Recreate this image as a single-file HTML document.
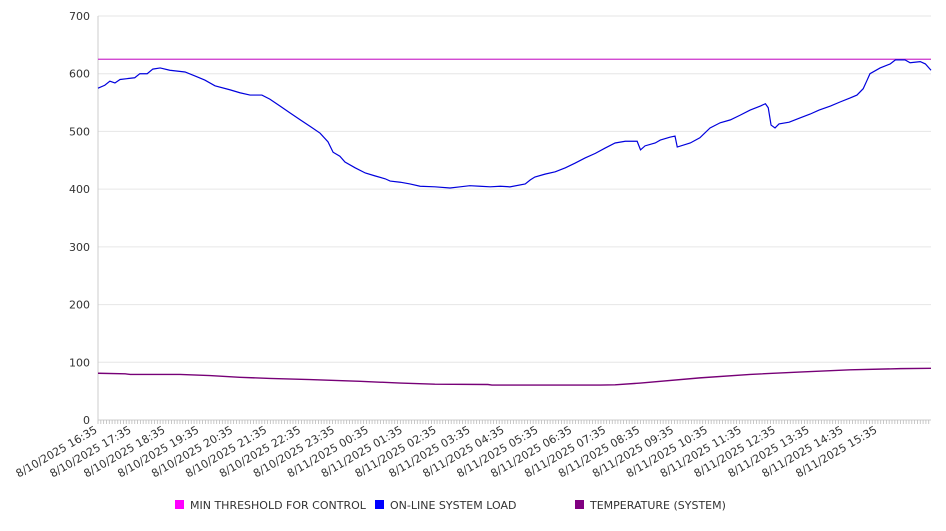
<!DOCTYPE html>
<html><head><meta charset="utf-8"><style>
body{margin:0;background:#fff;font-family:"Liberation Sans","DejaVu Sans",sans-serif;}
svg text{font-family:"DejaVu Sans","Liberation Sans",sans-serif;fill:#333;}
</style></head><body>
<svg id="chart" width="946" height="526" xmlns="http://www.w3.org/2000/svg">
<g id="grid"></g>
<g id="axes"></g>
<g id="series"></g>
<g id="legend"></g>
</svg>
<script>
const tickLabels = ["8/10/2025 16:35","8/10/2025 17:35","8/10/2025 18:35","8/10/2025 19:35","8/10/2025 20:35","8/10/2025 21:35","8/10/2025 22:35","8/10/2025 23:35","8/11/2025 00:35","8/11/2025 01:35","8/11/2025 02:35","8/11/2025 03:35","8/11/2025 04:35","8/11/2025 05:35","8/11/2025 06:35","8/11/2025 07:35","8/11/2025 08:35","8/11/2025 09:35","8/11/2025 10:35","8/11/2025 11:35","8/11/2025 12:35","8/11/2025 13:35","8/11/2025 14:35","8/11/2025 15:35"];
const yTicks = [0,100,200,300,400,500,600,700];
const threshold = 625;
const loadMinutes = [0,12,21,30,39,65,74,87,97,110,127,154,172,189,207,234,251,269,290,304,322,340,358,375,393,407,416,428,437,455,473,490,508,517,535,552,570,596,623,641,658,676,694,712,729,756,765,773,791,809,827,844,862,880,897,915,933,954,960,968,986,995,1012,1021,1025,1048,1065,1083,1101,1119,1136,1154,1172,1181,1186,1191,1198,1205,1223,1241,1260,1276,1296,1313,1331,1343,1354,1361,1366,1384,1402,1411,1428,1437,1455,1464,1474];
const loadValues = [575,580,587,584,590,593,600,600,608,610,606,603,596,589,579,572,567,563,563,556,544,532,520,509,497,482,464,457,447,437,428,423,418,414,412,409,405,404,402,404,406,405,404,405,404,409,416,421,426,430,437,445,454,462,471,480,483,483,468,475,480,485,490,492,473,480,489,506,515,520,528,537,544,548,541,511,506,513,516,523,530,537,544,551,558,563,574,589,600,610,617,624,624,619,621,617,606];
const tempMinutes = [0,48,57,145,198,251,304,375,464,535,596,690,697,889,915,960,1065,1154,1241,1331,1420,1474];
const tempValues = [81,80,79,79,77,74,72,70,67,64,62,61.5,60.5,60.5,61,64,73,79,83,87,89,89.5];
const NS="http://www.w3.org/2000/svg";
const X0=98,X1=931,Y0=420,Y1=16,MAXM=1474,MAXV=700;
const xs=m=>X0+(X1-X0)*m/MAXM;
const ys=v=>Y0-(Y0-Y1)*v/MAXV;
function mk(tag,attrs,parent){const e=document.createElementNS(NS,tag);for(const k in attrs)e.setAttribute(k,attrs[k]);parent.appendChild(e);return e;}
const grid=document.getElementById('grid'),axes=document.getElementById('axes'),series=document.getElementById('series'),legend=document.getElementById('legend');
yTicks.forEach(v=>{
  const l=mk('line',{x1:X0,x2:X1,y1:ys(v),y2:ys(v),stroke:'#e6e6e6','stroke-width':1},grid);
  
  
  const t=mk('text',{x:90,y:ys(v)+4,'text-anchor':'end','font-size':11},axes);
  t.textContent=v;
  
  
});
mk('line',{x1:X0,x2:X0,y1:Y1,y2:Y0,stroke:'#ccc'},axes);
mk('line',{x1:X0,x2:X1,y1:Y0,y2:Y0,stroke:'#ccc'},axes);
for(let m=0;m<=MAXM;m+=5){mk('line',{x1:xs(m),x2:xs(m),y1:Y0,y2:Y0+4,stroke:'#bbb','stroke-width':0.8},axes);}
tickLabels.forEach((s,i)=>{
  const x=xs(i*60),y=Y0+12;
  const t=mk('text',{x:x,y:y,'text-anchor':'end','font-size':11,transform:`rotate(-30 ${x} ${y})`},axes);
  t.textContent=s;
  
  
});
const th=mk('line',{x1:X0,x2:X1,y1:ys(threshold),y2:ys(threshold),stroke:'#cc33cc','stroke-width':1.2},series);


const lp=mk('polyline',{points:loadMinutes.map((m,i)=>xs(m)+','+ys(loadValues[i])).join(' '),fill:'none',stroke:'#0000dd','stroke-width':1.2},series);


const tp=mk('polyline',{points:tempMinutes.map((m,i)=>xs(m)+','+ys(tempValues[i])).join(' '),fill:'none',stroke:'#770077','stroke-width':1.4},series);


[["MIN THRESHOLD FOR CONTROL","#ff00ff",175],["ON-LINE SYSTEM LOAD","#0000ff",375],["TEMPERATURE (SYSTEM)","#800080",575]].forEach(([n,c,x])=>{
  const g=mk('g',{},legend);
  
  
  mk('rect',{x:x,y:500,width:9,height:9,fill:c},g);
  const t=mk('text',{x:x+15,y:509,'font-size':11},g);
  t.textContent=n;
});
</script>
</body></html>
